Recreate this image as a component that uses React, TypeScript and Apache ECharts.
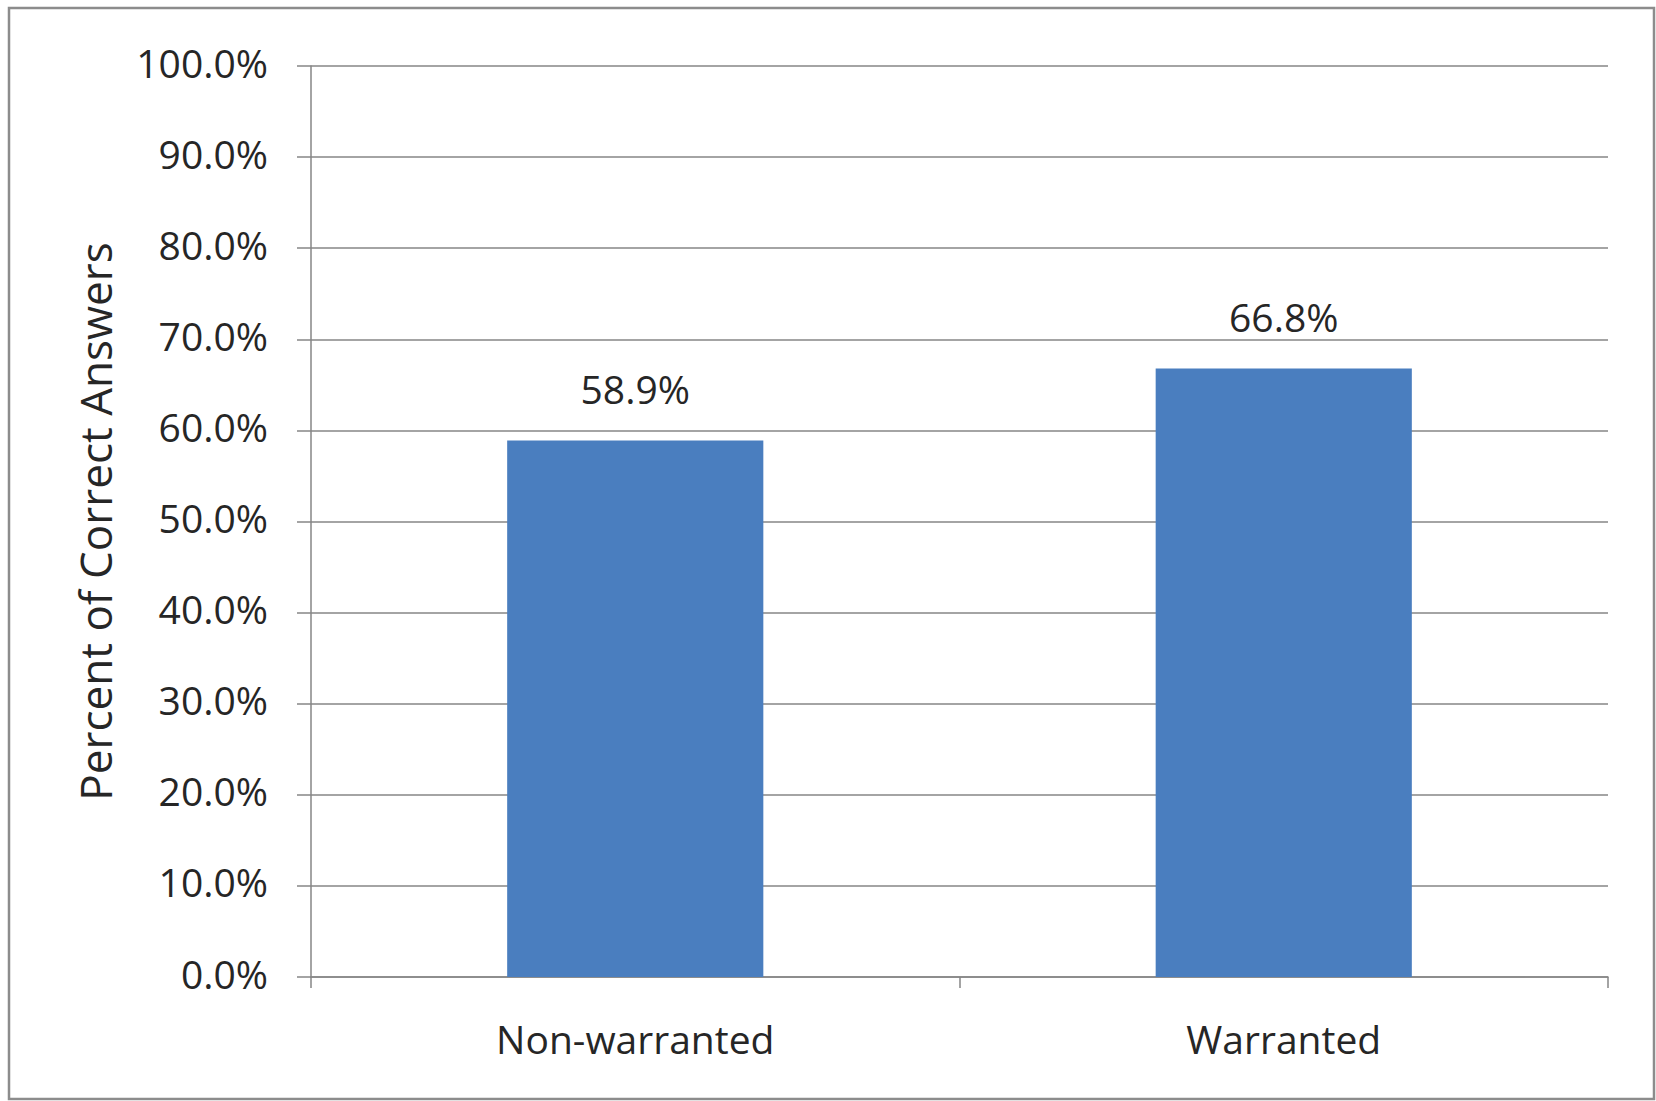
import React, { useEffect, useRef } from "react";
import * as echarts from "echarts";

const categories = ["Non-warranted", "Warranted"];
const values = [58.9, 66.8];
const yTicks = [0, 10, 20, 30, 40, 50, 60, 70, 80, 90, 100];
const yTitle = "Percent of Correct Answers";

const FONT = "Open Sans";
const TEXT = "#262626";
const LINE = "#868686";

export default function App() {
  const ref = useRef<HTMLDivElement>(null);
  useEffect(() => {
    document.body.style.margin = "0";
    const chart = echarts.init(ref.current!, null, { renderer: "svg" });
    chart.setOption({
      animation: false,
      backgroundColor: "#ffffff",
      grid: { left: 311, right: 48, top: 66, bottom: 124, containLabel: false },
      graphic: [
        {
          type: "rect",
          shape: { x: 9, y: 8, width: 1645, height: 1091 },
          style: { fill: "none", stroke: "#8c8c8c", lineWidth: 2.5 },
          silent: true,
        },
      ],
      xAxis: {
        type: "category",
        data: categories,
        boundaryGap: true,
        axisLine: { show: true, lineStyle: { color: LINE, width: 1.5 } },
        axisTick: { show: true, length: 11, lineStyle: { color: LINE, width: 1.5 } },
        axisLabel: { color: TEXT, fontFamily: FONT, fontSize: 39, margin: 42 },
      },
      yAxis: {
        type: "value",
        min: yTicks[0],
        max: yTicks[yTicks.length - 1],
        interval: 10,
        name: yTitle,
        nameLocation: "middle",
        nameRotate: 90,
        nameGap: 194,
        nameTextStyle: { color: TEXT, fontFamily: FONT, fontSize: 44 },
        axisLine: { show: true, lineStyle: { color: LINE, width: 1.5 } },
        axisTick: { show: true, length: 14, lineStyle: { color: LINE, width: 1.5 } },
        splitLine: { show: true, lineStyle: { color: LINE, width: 1.5 } },
        axisLabel: {
          color: TEXT,
          fontFamily: FONT,
          fontSize: 39,
          margin: 43,
          formatter: (v: number) => "{t|" + v.toFixed(1) + "%}",
          rich: {
            t: {
              color: TEXT,
              fontFamily: FONT,
              fontSize: 39,
              padding: [0, 0, 8, 0],
            },
          },
        },
      },
      series: [
        {
          type: "bar",
          data: values,
          barWidth: "39.5%",
          itemStyle: { color: "#4a7ebf" },
          label: {
            show: true,
            position: "top",
            distance: 32,
            color: TEXT,
            fontFamily: FONT,
            fontSize: 39,
            formatter: (p: any) => Number(p.value).toFixed(1) + "%",
          },
        },
      ],
    });
    return () => chart.dispose();
  }, []);
  return <div ref={ref} style={{ width: 1656, height: 1101 }} />;
}
